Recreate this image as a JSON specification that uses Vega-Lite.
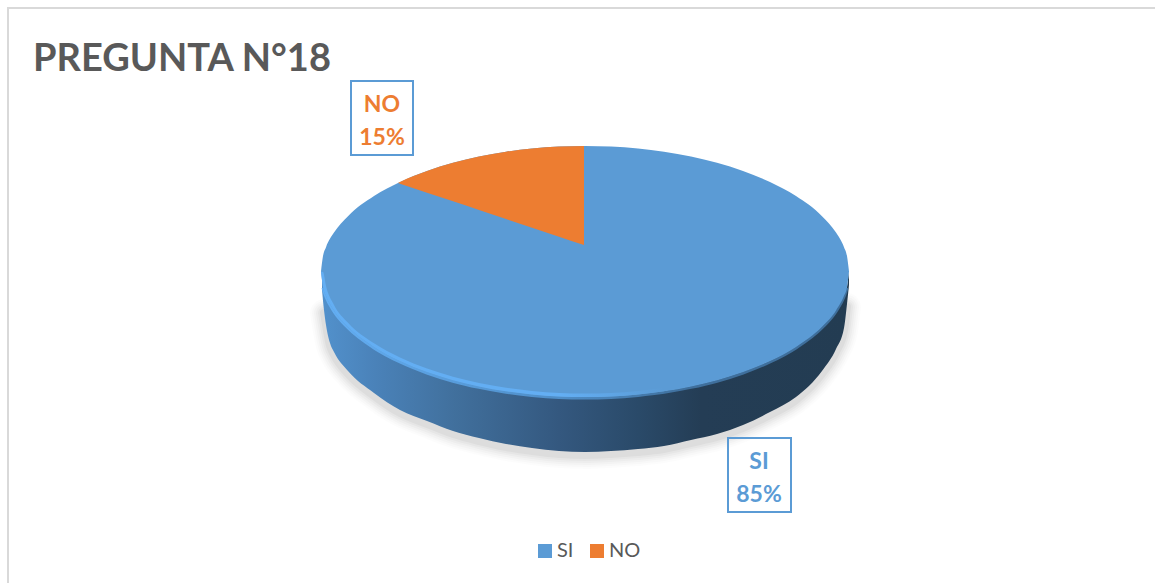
{"$schema":"https://vega.github.io/schema/vega-lite/v6.json","width":1155,"height":583,"padding":0,"autosize":{"type":"none"},"background":"#ffffff","config":{"view":{"stroke":null},"axis":{"disable":true},"font":"Lato"},
"title":{"text":"PREGUNTA  N°18","anchor":"start","frame":"group","orient":"top","dx":33,"dy":40,"offset":-69,"baseline":"alphabetic","font":"Lato","fontSize":38,"fontWeight":"bold","color":"#595959"},
"datasets":{
"frame":[{"x":8,"x2":1175,"y":8,"y2":600}],
"shadow":[{"x":324,"y":313},{"x":330,"y":346},{"x":334,"y":355},{"x":348,"y":374},{"x":374,"y":396},{"x":400,"y":413},{"x":427,"y":424},{"x":453,"y":434},{"x":479,"y":441},{"x":506,"y":447},{"x":532,"y":451},{"x":559,"y":454},{"x":585,"y":455},{"x":611,"y":454},{"x":638,"y":452},{"x":664,"y":449},{"x":691,"y":443},{"x":717,"y":437},{"x":743,"y":428},{"x":770,"y":415},{"x":796,"y":400},{"x":822,"y":374},{"x":836,"y":352},{"x":844,"y":331},{"x":847,"y":307}],
"side":[{"x":322,"y":278,"y2":290},{"x":324,"y":287,"y2":310},{"x":326,"y":296,"y2":325},{"x":330,"y":304,"y2":343},{"x":334,"y":310.4,"y2":352},{"x":348,"y":326.8,"y2":371},{"x":374,"y":346.9,"y2":393},{"x":400,"y":361,"y2":410},{"x":427,"y":372,"y2":421},{"x":453,"y":380.2,"y2":431},{"x":479,"y":386.4,"y2":438},{"x":506,"y":391.3,"y2":444},{"x":532,"y":394.4,"y2":448},{"x":559,"y":396.4,"y2":451},{"x":585,"y":397,"y2":452},{"x":611,"y":396.4,"y2":451},{"x":638,"y":394.4,"y2":449},{"x":664,"y":391.3,"y2":446},{"x":691,"y":386.4,"y2":440},{"x":717,"y":380.2,"y2":434},{"x":743,"y":372,"y2":425},{"x":770,"y":361,"y2":412},{"x":796,"y":346.9,"y2":397},{"x":822,"y":326.8,"y2":371},{"x":836,"y":310.4,"y2":349},{"x":844,"y":295.8,"y2":328},{"x":847,"y":286.9,"y2":304},{"x":849,"y":271.5,"y2":285}],
"top":[{"category":"SI","x":321,"y":271.5,"y2":271.5},{"category":"SI","x":323,"y":256.1,"y2":286.9},{"category":"SI","x":326,"y":247.2,"y2":295.8},{"category":"SI","x":334,"y":232.6,"y2":310.4},{"category":"SI","x":348,"y":216.2,"y2":326.8},{"category":"SI","x":374,"y":196.1,"y2":346.9},{"category":"SI","x":400,"y":182,"y2":361},{"category":"SI","x":427,"y":171,"y2":372},{"category":"SI","x":453,"y":162.8,"y2":380.2},{"category":"SI","x":479,"y":156.6,"y2":386.4},{"category":"SI","x":506,"y":151.7,"y2":391.3},{"category":"SI","x":532,"y":148.6,"y2":394.4},{"category":"SI","x":559,"y":146.6,"y2":396.4},{"category":"SI","x":585,"y":146,"y2":397},{"category":"SI","x":611,"y":146.6,"y2":396.4},{"category":"SI","x":638,"y":148.6,"y2":394.4},{"category":"SI","x":664,"y":151.7,"y2":391.3},{"category":"SI","x":691,"y":156.6,"y2":386.4},{"category":"SI","x":717,"y":162.8,"y2":380.2},{"category":"SI","x":743,"y":171,"y2":372},{"category":"SI","x":770,"y":182,"y2":361},{"category":"SI","x":796,"y":196.1,"y2":346.9},{"category":"SI","x":822,"y":216.2,"y2":326.8},{"category":"SI","x":836,"y":232.6,"y2":310.4},{"category":"SI","x":844,"y":247.2,"y2":295.8},{"category":"SI","x":847,"y":256.1,"y2":286.9},{"category":"SI","x":849,"y":271.5,"y2":271.5}],
"rim":[{"x":321,"y":271.5,"y2":271.5},{"x":323,"y":272,"y2":286.9},{"x":326,"y":286,"y2":295.8},{"x":334,"y":304.9,"y2":310.4},{"x":348,"y":322.7,"y2":326.8},{"x":374,"y":343.3,"y2":346.9},{"x":400,"y":357.5,"y2":361},{"x":427,"y":368.6,"y2":372},{"x":453,"y":376.7,"y2":380.2},{"x":479,"y":383,"y2":386.4},{"x":506,"y":387.8,"y2":391.3},{"x":532,"y":390.9,"y2":394.4},{"x":559,"y":392.9,"y2":396.4},{"x":585,"y":393.5,"y2":397},{"x":611,"y":392.9,"y2":396.4},{"x":638,"y":390.9,"y2":394.4},{"x":664,"y":387.8,"y2":391.3}],
"glow":[{"x":323,"y":287.9},{"x":326,"y":296.8},{"x":334,"y":311.4},{"x":348,"y":327.8},{"x":374,"y":347.9},{"x":400,"y":362},{"x":427,"y":373},{"x":453,"y":381.2},{"x":479,"y":387.4},{"x":506,"y":392.3},{"x":532,"y":395.4},{"x":559,"y":397.4},{"x":585,"y":398},{"x":611,"y":397.4},{"x":638,"y":395.4},{"x":664,"y":392.3},{"x":691,"y":387.4},{"x":717,"y":381.2},{"x":743,"y":373},{"x":770,"y":362},{"x":796,"y":347.9},{"x":822,"y":327.8},{"x":836,"y":311.4},{"x":844,"y":296.8},{"x":847,"y":287.9}],
"wedge":[{"category":"NO","x":398,"y":183,"y2":183},{"category":"NO","x":400,"y":182,"y2":183.7},{"category":"NO","x":427,"y":171,"y2":192.7},{"category":"NO","x":453,"y":162.8,"y2":201.3},{"category":"NO","x":479,"y":156.6,"y2":210},{"category":"NO","x":506,"y":151.7,"y2":219},{"category":"NO","x":532,"y":148.6,"y2":227.7},{"category":"NO","x":559,"y":146.6,"y2":236.7},{"category":"NO","x":584,"y":146,"y2":245}],
"boxes":[{"category":"NO","value":15,"x":351,"x2":413,"y":81,"y2":155},{"category":"SI","value":85,"x":728,"x2":791,"y":438,"y2":512}],
"labels":[{"category":"NO","x":382,"y":112,"text":"NO"},{"category":"NO","x":382,"y":145,"text":"15%"},{"category":"SI","x":759,"y":469,"text":"SI"},{"category":"SI","x":759,"y":502,"text":"85%"}]
},
"encoding":{"x":{"field":"x","type":"quantitative","scale":{"domain":[0,1155],"nice":false,"zero":false}},"y":{"field":"y","type":"quantitative","scale":{"domain":[583,0],"nice":false,"zero":false}}},
"layer":[
{"data":{"name":"frame"},"mark":{"type":"rect","fill":"transparent","stroke":"#d9d9d9","strokeWidth":2},"encoding":{"x2":{"field":"x2"},"y2":{"field":"y2"}}},
{"data":{"name":"shadow"},"mark":{"type":"line","stroke":"#000000","strokeWidth":28,"opacity":0.012,"interpolate":"monotone","strokeCap":"round"}},
{"data":{"name":"shadow"},"mark":{"type":"line","stroke":"#000000","strokeWidth":24,"opacity":0.015,"interpolate":"monotone","strokeCap":"round"}},
{"data":{"name":"shadow"},"mark":{"type":"line","stroke":"#000000","strokeWidth":20,"opacity":0.018,"interpolate":"monotone","strokeCap":"round"}},
{"data":{"name":"shadow"},"mark":{"type":"line","stroke":"#000000","strokeWidth":16,"opacity":0.022,"interpolate":"monotone","strokeCap":"round"}},
{"data":{"name":"shadow"},"mark":{"type":"line","stroke":"#000000","strokeWidth":12,"opacity":0.028,"interpolate":"monotone","strokeCap":"round"}},
{"data":{"name":"shadow"},"mark":{"type":"line","stroke":"#000000","strokeWidth":8,"opacity":0.035,"interpolate":"monotone","strokeCap":"round"}},
{"data":{"name":"side"},"mark":{"type":"area","interpolate":"monotone","fill":{"gradient":"linear","x1":0,"y1":0,"x2":1,"y2":0,"stops":[{"offset":0,"color":"#5291cc"},{"offset":0.1,"color":"#4a82b9"},{"offset":0.25,"color":"#41709d"},{"offset":0.45,"color":"#34587f"},{"offset":0.6,"color":"#2a4a69"},{"offset":0.72,"color":"#243d55"},{"offset":1,"color":"#233c52"}]}},"encoding":{"y2":{"field":"y2"}}},
{"data":{"name":"glow"},"mark":{"type":"line","interpolate":"monotone","strokeWidth":3,"stroke":{"gradient":"linear","x1":0,"y1":0,"x2":1,"y2":0,"stops":[{"offset":0,"color":"#63aef3"},{"offset":0.45,"color":"#4f8ec8"},{"offset":0.7,"color":"#3f6f9c"},{"offset":1,"color":"#3f6f9c"}]}}},
{"data":{"name":"top"},"mark":{"type":"area","interpolate":"monotone"},"encoding":{"y2":{"field":"y2"},"color":{"field":"category","type":"nominal","scale":{"domain":["SI","NO"],"range":["#5b9bd5","#ed7d31"]},"legend":{"orient":"none","legendX":535,"legendY":541,"direction":"horizontal","title":null,"symbolType":"square","symbolSize":196,"symbolStrokeWidth":0,"labelFont":"Lato","labelFontSize":20,"labelColor":"#595959","labelOffset":2,"columnPadding":13}}}},
{"data":{"name":"rim"},"mark":{"type":"area","interpolate":"monotone","fill":{"gradient":"linear","x1":0,"y1":0,"x2":1,"y2":0,"stops":[{"offset":0,"color":"#63aef3"},{"offset":0.7,"color":"#63aef3"},{"offset":1,"color":"#5b9bd5"}]}},"encoding":{"y2":{"field":"y2"}}},
{"data":{"name":"wedge"},"mark":{"type":"area","interpolate":"monotone"},"encoding":{"y2":{"field":"y2"},"color":{"field":"category","type":"nominal","scale":{"domain":["SI","NO"],"range":["#5b9bd5","#ed7d31"]}}}},
{"data":{"name":"boxes"},"mark":{"type":"rect","fill":"transparent","stroke":"#5b9bd5","strokeWidth":2},"encoding":{"x2":{"field":"x2"},"y2":{"field":"y2"}}},
{"data":{"name":"labels"},"mark":{"type":"text","font":"Lato","fontSize":23,"fontWeight":"bold","align":"center","baseline":"alphabetic"},"encoding":{"text":{"field":"text"},"color":{"field":"category","type":"nominal","scale":{"domain":["SI","NO"],"range":["#5b9bd5","#ed7d31"]}}}}
]}
